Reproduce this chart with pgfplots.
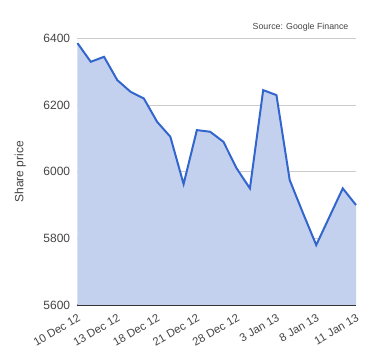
\documentclass[border=0pt]{standalone}
\usepackage{fontspec}
\setmainfont{Liberation Sans}
\usepackage{pgfplots}
\pgfplotsset{compat=1.18}
\definecolor{linec}{HTML}{3366CC}
\definecolor{fillc}{HTML}{C3D1EF}
\definecolor{gridc}{HTML}{CCCCCC}
\definecolor{textc}{HTML}{444444}
\begin{document}
\begin{tikzpicture}[x=0.75pt,y=0.75pt]
\useasboundingbox (-77.5,-55) rectangle (302.5,305);
\begin{axis}[
  at={(0pt,0pt)}, anchor=origin,
  scale only axis,
  width=208.9pt, height=199.9pt,
  xmin=0, xmax=21, ymin=5600, ymax=6400,
  xtick={0,3,6,9,12,15,18,21},
  xticklabels={10 Dec 12,13 Dec 12,18 Dec 12,21 Dec 12,28 Dec 12,3 Jan 13,8 Jan 13,11 Jan 13},
  ytick={5600,5800,6000,6200,6400},
  /pgf/number format/assume math mode=true,
  /pgf/number format/1000 sep={},
  ymajorgrids, major grid style={gridc, line width=0.75pt},
  major tick length=0pt,
  axis x line*=bottom, axis y line*=left,
  x axis line style={draw=black!80, line width=1pt, -},
  y axis line style={draw=none},
  tick label style={font=\fontsize{9}{10}\selectfont, text=textc},
  xticklabel style={rotate=30, anchor=north east, font=\fontsize{8.5}{10}\selectfont, yshift=-2pt},
  yticklabel style={xshift=-2pt},
  clip=false,
]
\addplot[fill=fillc, draw=none] coordinates {
(0,6386)(1,6330)(2,6345)(3,6275)(4,6240)(5,6220)(6,6150)(7,6105)(8,5963)(9,6125)(10,6120)
(11,6090)(12,6010)(13,5950)(14,6245)(15,6230)(16,5975)(17,5876)(18,5780)(19,5865)(20,5950)(21,5900)
} \closedcycle;
\addplot[linec, line width=1.5pt, mark=none] coordinates {
(0,6386)(1,6330)(2,6345)(3,6275)(4,6240)(5,6220)(6,6150)(7,6105)(8,5963)(9,6125)(10,6120)
(11,6090)(12,6010)(13,5950)(14,6245)(15,6230)(16,5975)(17,5876)(18,5780)(19,5865)(20,5950)(21,5900)
};
\node[rotate=90, font=\fontsize{9}{10}\selectfont, text=textc] at ([xshift=-43pt]axis description cs:0,0.5) {Share price};
\node[anchor=base east, font=\fontsize{6.6}{8}\selectfont, text=textc] at ([yshift=6.4pt,xshift=-2.2pt]axis description cs:1,1) {Source: Google Finance};
\end{axis}
\end{tikzpicture}
\end{document}
